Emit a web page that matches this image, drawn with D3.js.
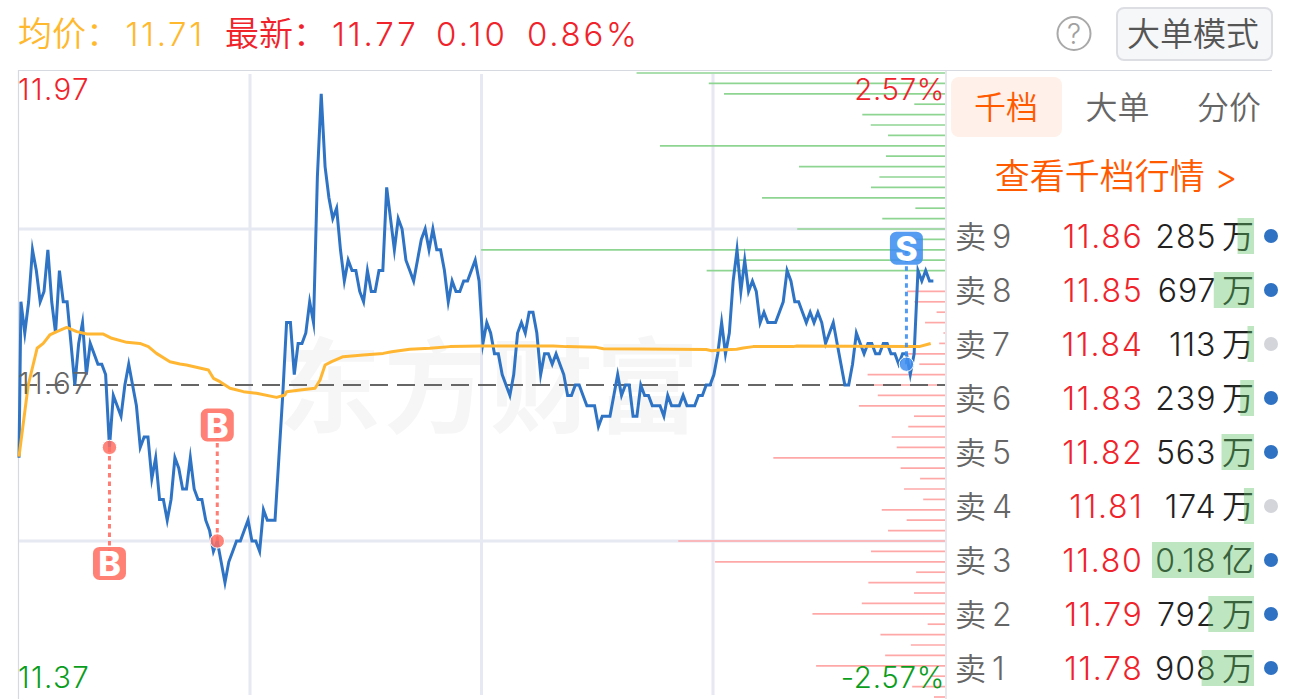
<!DOCTYPE html>
<html lang="zh">
<head>
<meta charset="utf-8">
<script src="https://cdn.jsdelivr.net/npm/d3@7/dist/d3.min.js"></script>
<style>
html,body{margin:0;padding:0;background:#fff;overflow:hidden}
svg{display:block}
text{font-family:Inter,"Noto Sans CJK SC",sans-serif;font-weight:350}
</style>
</head>
<body>
<svg id="chart" width="1290" height="699"></svg>
<script>
// ---------- values ----------
const preClose = 11.67;
const yTop = 11.97, yBottom = 11.37;
const openingMinute = -0.5;
// last price per minute, in cents from the previous close; first entry is the opening auction
const openingTick = -7;
const priceTicks = [
  8,5,8,13,11,8,9,13,8,5,
  11,8,8,4,0,4,6,1,4,3,
  2,2,1,-6,-1,-2,-3,0,2,0,
  -2,-6,-5,-5,-9,-7,-11,-11,-13,-11,
  -7,-8,-10,-10,-7,-10,-11,-11,-13,-14,
  -16,-15,-17,-19,-17,-16,-15,-15,-14,-13,
  -15,-15,-16,-12,-13,-13,-13,-7,-1,6,
  6,1,4,4,5,8,6,20,28,21,
  18,16,17,13,10,12,11,11,9,8,
  11,9,9,11,11,19,16,13,16,15,
  12,11,10,12,14,15,13,15,13,13,
  11,8,10,9,9,10,10,11,12,10,
  4,6,5,3,3,1,0,-1,1,5,
  6,5,7,7,5,1,3,3,2,3,
  2,1,-1,-1,0,0,-1,-2,-2,-2,
  -4,-3,-3,-3,-1,1,-1,0,0,-3,
  -3,0,-1,-1,-2,-2,-2,-3,-1,-2,
  -2,-2,-1,-2,-2,-2,-1,-1,0,0,
  1,3,6,3,5,10,13,9,12,9,
  10,9,6,7,6,6,6,7,8,11,
  10,8,8,7,6,7,6,7,6,4,
  5,6,4,2,0,0,2,5,4,3,
  4,4,3,3,4,4,3,3,2,3,
  3,1,3,11,10,11,10,10
];
// average price line, read at the minutes where its shape changes
const avgMinutes = [-0.5,1.9,4.2,5.8,7.5,9.3,11.9,14.5,17.1,21.4,23.6,27.5,30.9,33.1,35.2,38.7,41.3,43,48.7,50,51.7,54.3,57.8,61.2,66.4,68.6,69,72.5,76.4,77.7,79,80.7,83.7,88.9,94.1,96.3,101,106.2,111.4,119.2,138.3,141.7,149.5,151.3,160.8,178,179.4,181.5,185.9,187.6,190.2,200.6,201.5,230.7,233.3,236.3];
const avgTicks = [-6.89,0,3.53,4,4.81,5.13,5.54,5.13,4.9,4.9,4.49,4.1,4,3.69,3.04,2.24,2.02,1.92,1.44,0.64,0.32,-0.32,-0.64,-0.8,-1.19,-0.96,-0.64,-0.48,-0.32,0.48,1.92,2.24,2.72,2.88,3.04,3.2,3.43,3.53,3.69,3.75,3.75,3.69,3.62,3.49,3.45,3.41,3.3,3.36,3.43,3.56,3.69,3.69,3.75,3.69,3.69,3.99];
// thousand-level order ladder (volume in 万), per cent of price
const askLadderTicks = d3.range(30, 10, -1);
const askLadderVolumes = [1175,900,842,117,315,283,217,1086,225,556,250,282,697,113,239,563,174,1767,792,908];
const bidLadderTicks = d3.range(9, -31, -1);
const bidLadderVolumes = [144,117,32,76,6,22,144,98,295,330,256,328,118,140,203,184,654,169,95,156,83,241,146,217,1016,282,876,110,292,118,317,505,66,246,130,228,491,51,125,42];
// buy / sell markers
const tradeKinds = ["B","B","S"];
const tradeMinutes = [23,51,230];
const tradeTicks = [-6,-15,2];
const tradeFlagSides = [1,-1,-1];
// sell table
const askNames = ["卖","卖","卖","卖","卖","卖","卖","卖","卖"];
const askLevels = ["9","8","7","6","5","4","3","2","1"];
const askPrices = ["11.86","11.85","11.84","11.83","11.82","11.81","11.80","11.79","11.78"];
const askAmounts = ["285","697","113","239","563","174","0.18","792","908"];
const askUnits = ["万","万","万","万","万","万","亿","万","万"];
const askVolumes = [285,697,113,239,563,174,1767,792,908];
const askBigOrder = [true,true,false,true,true,false,true,true,true];
const tabLabels = ["千档","大单","分价"];

// ---------- colours ----------
const RED="#f0232b", GREEN="#0a9d1c", GOLD="#ffb92e", ORANGE="#ff5a00", GREY="#666";
const svg = d3.select("#chart");
const tickToPrice = t => preClose + t/100;

// ---------- scales ----------
const x = d3.scaleLinear().domain([-0.5,239.5]).range([19,943]);
const quarter = d3.scaleLinear().domain([0,4]).range([18.5,944.5]);
const y = d3.scaleLinear().domain([yBottom,yTop]).range([697,73]);
const ladderW = d3.scaleLinear().domain([0,1000]).range([0,262.5]);
const tableW = d3.scaleLinear().domain([0,1767]).range([0,102]);
const rowY = d3.scalePoint().domain(askLevels).range([236,668]);
const tabX = d3.scalePoint().domain(tabLabels).range([1006,1229]);

// ---------- header ----------
function label(t,px,py,size,fill,anchor,spacing){
  return svg.append("text").attr("x",px).attr("y",py).attr("font-size",size)
    .attr("fill",fill).attr("text-anchor",anchor||"start").attr("letter-spacing",spacing||0).text(t);
}
label("均价：",18,46,34,GOLD);
label("11.71",125.5,46,33,GOLD,"start",2.6);
label("最新：",225,46,34,RED);
label("11.77",332,46,33,RED,"start",2.8);
label("0.10",436,46,33,RED,"start",3.2);
label("0.86%",527,46,33,RED,"start",2.7);

svg.append("circle").attr("cx",1074).attr("cy",33.5).attr("r",16.5).attr("fill","none").attr("stroke","#a9a9a9").attr("stroke-width",2);
label("?",1074,44,28,"#a0a0a0","middle");
svg.append("rect").attr("x",1117).attr("y",8).attr("width",155).attr("height",52).attr("rx",7)
  .attr("fill","#f6f7f9").attr("stroke","#dcdee4").attr("stroke-width",2);
label("大单模式",1193,46,33,"#555","middle");

// ---------- watermark ----------
label("东方财富",490,425,103,"#f6f6f6","middle",3).attr("style","font-weight:700");

// ---------- frame & grid ----------
svg.append("line").attr("x1",18).attr("x2",1272).attr("y1",70.5).attr("y2",70.5).attr("stroke","#d7d9e1").attr("stroke-width",1.2);
svg.append("line").attr("x1",18.5).attr("x2",18.5).attr("y1",70).attr("y2",699).attr("stroke","#d7d9e1").attr("stroke-width",1.2);
svg.append("line").attr("x1",946).attr("x2",946).attr("y1",70).attr("y2",699).attr("stroke","#d7d9e1").attr("stroke-width",1.2);
svg.append("g").selectAll("line").data([1,2,3]).join("line")
  .attr("x1",d=>quarter(d)).attr("x2",d=>quarter(d)).attr("y1",74).attr("y2",695)
  .attr("stroke","#e6e8f2").attr("stroke-width",3);
svg.append("g").selectAll("line").data([yTop-0.15,yBottom+0.15]).join("line")
  .attr("x1",19).attr("x2",945).attr("y1",d=>y(d)).attr("y2",d=>y(d))
  .attr("stroke","#e6e8f2").attr("stroke-width",3);

// ---------- order ladder ----------
svg.append("g").selectAll("line").data(askLadderVolumes).join("line")
  .attr("x1",d=>945-ladderW(d)).attr("x2",945)
  .attr("y1",(d,i)=>y(tickToPrice(askLadderTicks[i]))).attr("y2",(d,i)=>y(tickToPrice(askLadderTicks[i])))
  .attr("stroke","#8fd592").attr("stroke-width",1.7);
svg.append("g").selectAll("line").data(bidLadderVolumes).join("line")
  .attr("x1",d=>945-ladderW(d)).attr("x2",945)
  .attr("y1",(d,i)=>y(tickToPrice(bidLadderTicks[i]))).attr("y2",(d,i)=>y(tickToPrice(bidLadderTicks[i])))
  .attr("stroke","#ffa8a8").attr("stroke-width",1.7);

// ---------- previous close ----------
svg.append("line").attr("x1",19).attr("x2",945).attr("y1",y(preClose)).attr("y2",y(preClose))
  .attr("stroke","#666").attr("stroke-width",2).attr("stroke-dasharray","18 9");

// ---------- lines ----------
const pricePoints = [[openingMinute,openingTick]].concat(priceTicks.map((t,i)=>[i,t]));
const avgPoints = avgMinutes.map((m,i)=>[m,avgTicks[i]]);
const lineGen = d3.line().x(d=>x(d[0])).y(d=>y(tickToPrice(d[1])));
svg.append("path").attr("d",lineGen(pricePoints)).attr("fill","none").attr("stroke","#2f74c4")
  .attr("stroke-width",3).attr("stroke-linejoin","miter").attr("stroke-miterlimit",10);
svg.append("path").attr("d",lineGen(avgPoints)).attr("fill","none").attr("stroke","#ffb733")
  .attr("stroke-width",3).attr("stroke-linejoin","round");

// ---------- scale labels ----------
label("11.97",18,100,29.5,RED,"start",1.4);
label("11.67",18,394,29.5,GREY,"start",1.4);
label("11.37",18,688,29.5,GREEN,"start",1.4);
label("2.57%",945,100,29.5,RED,"end",0.6);
label("-2.57%",945,688,29.5,GREEN,"end",0.7);

// ---------- buy / sell markers ----------
tradeKinds.forEach((k,i)=>{
  const col = k==="B" ? "#ff6f63" : "#3f8ef0";
  const px = x(tradeMinutes[i]), py = y(tickToPrice(tradeTicks[i]));
  const fy = py + tradeFlagSides[i]*116;
  svg.append("line").attr("x1",px).attr("x2",px).attr("y1",py).attr("y2",fy)
    .attr("stroke",col).attr("stroke-opacity",.9).attr("stroke-width",3).attr("stroke-dasharray","4.5 4");
  svg.append("circle").attr("cx",px).attr("cy",py).attr("r",7.2).attr("fill",col).attr("fill-opacity",.85)
    .attr("stroke","#fff").attr("stroke-width",1);
  svg.append("rect").attr("x",px-16.5).attr("y",fy-16.5).attr("width",33).attr("height",33).attr("rx",6.5)
    .attr("fill",col).attr("fill-opacity",.88);
  label(k,px,fy+12.5,34,"#fff","middle").attr("style","font-weight:800");
});

// ---------- right panel ----------
svg.append("rect").attr("x",951).attr("y",77).attr("width",111).attr("height",60).attr("rx",8).attr("fill","#fff0e9");
tabLabels.forEach((t,i)=>label(t,tabX(t),119,32,i===0?ORANGE:GREY,"middle"));
label("查看千档行情 >",1116,189,35,ORANGE,"middle");

askLevels.forEach((lv,i)=>{
  const cy = rowY(lv);
  label(askNames[i],955,cy+12,31,GREY);
  label(lv,992,cy+12,32,GREY);
  label(askPrices[i],1143.5,cy+12,32,RED,"end",1.7);
  label(askAmounts[i],1216.5,cy+12,32,"#222","end",1);
  label(askUnits[i],1254,cy+12,32,"#222","end");
  svg.append("rect").attr("x",1254-tableW(askVolumes[i])).attr("y",cy-18)
    .attr("width",tableW(askVolumes[i])).attr("height",36).attr("fill","#5cc264").attr("fill-opacity",.4);
  svg.append("circle").attr("cx",1271).attr("cy",cy).attr("r",7).attr("fill",askBigOrder[i]?"#2f72c3":"#d3d5db");
});
</script>
</body>
</html>
